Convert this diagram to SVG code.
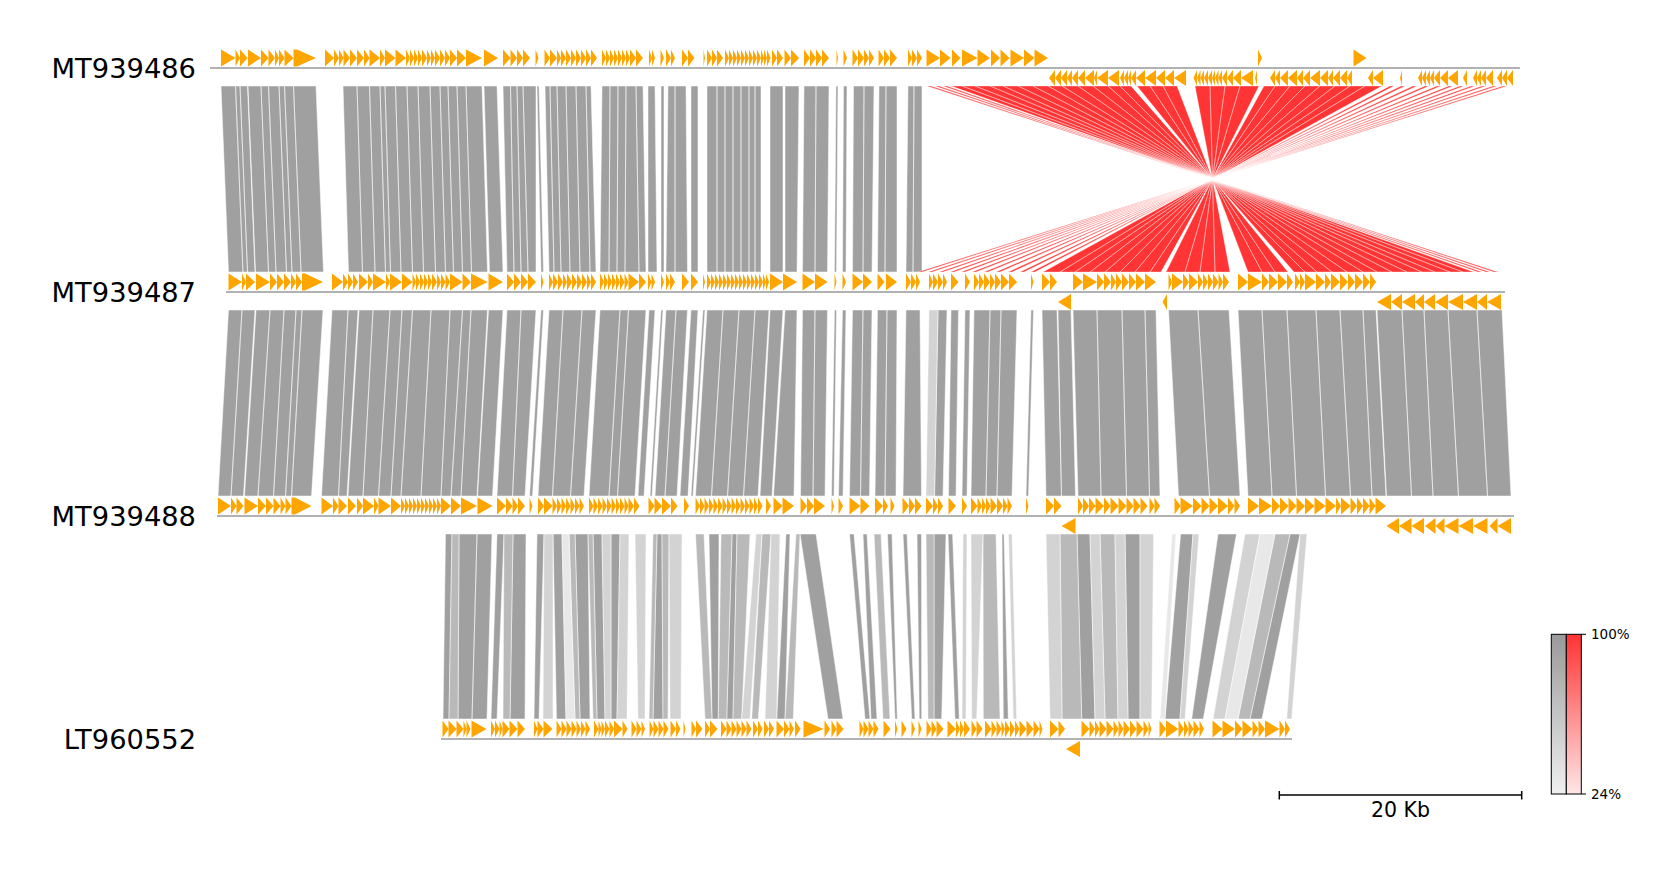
<svg xmlns="http://www.w3.org/2000/svg" width="1680" height="870" viewBox="0 0 1680 870">
<style>
.lbl{font-family:"DejaVu Sans","Liberation Sans",sans-serif;font-size:27.3px;fill:#000;text-anchor:end}
.small{font-family:"DejaVu Sans","Liberation Sans",sans-serif;font-size:13.5px;fill:#000}
.sb{font-family:"DejaVu Sans","Liberation Sans",sans-serif;font-size:20.5px;fill:#000;text-anchor:middle}
.gene{fill:#FFA500}
.trk{stroke:#999;stroke-width:1.6;fill:none}
.lk{stroke:#fff;stroke-width:0.5;stroke-linejoin:round}
.lr{stroke:#fff;stroke-width:0.35;stroke-linejoin:round}
.g1{fill:#a0a0a0}.g2{fill:#b9b9b9}.g3{fill:#d3d3d3}.g4{fill:#e8e8e8}.red{fill:#ff3535}
</style>
<defs>
<linearGradient id="gg" x1="0" y1="0" x2="0" y2="1"><stop offset="0" stop-color="#999"/><stop offset="1" stop-color="#f0f0f0"/></linearGradient>
<linearGradient id="rg" x1="0" y1="0" x2="0" y2="1"><stop offset="0" stop-color="#ff3333"/><stop offset="1" stop-color="#ffe6e6"/></linearGradient>
</defs>
<rect width="1680" height="870" fill="#fff"/>
<g id="connectors">
<path class="lk g1" d="M221 86L235.5 86L243 272L228.5 272ZM235.5 86L240 86L247.5 272L243 272ZM240 86L247.5 86L255 272L247.5 272ZM248 86L261 86L268.5 272L255.5 272ZM261 86L268.5 86L276 272L268.5 272ZM268.5 86L279 86L286.5 272L276 272ZM279 86L284.5 86L292 272L286.5 272ZM284.5 86L293.5 86L301 272L292 272ZM293.5 86L316 86L323.5 272L301 272ZM343 86L357 86L362.5 272L348.5 272ZM357 86L369.5 86L375 272L362.5 272ZM369.5 86L380 86L385.5 272L375 272ZM380 86L385 86L390.5 272L385.5 272ZM385 86L395.5 86L401 272L390.5 272ZM395.5 86L407 86L412.5 272L401 272ZM407 86L418 86L423.5 272L412.5 272ZM418 86L430 86L435.5 272L423.5 272ZM430 86L440 86L445.5 272L435.5 272ZM440 86L448 86L453.5 272L445.5 272ZM448 86L457 86L462.5 272L453.5 272ZM457 86L466 86L471.5 272L462.5 272ZM466 86L482 86L487.5 272L471.5 272ZM484 86L497 86L503 272L489.5 272ZM503 86L510.5 86L514 272L507 272ZM510.5 86L517 86L521 272L514 272ZM517 86L523 86L528 272L521 272ZM523 86L536 86L536 272L528 272ZM537 86L539 86L543.5 272L541 272ZM545 86L550 86L554 272L549 272ZM550 86L557 86L561 272L554 272ZM557 86L566 86L570 272L561 272ZM566 86L576 86L580 272L570 272ZM576 86L586 86L590 272L580 272ZM586 86L591 86L596 272L590 272ZM602 86L610 86L609 272L600 272ZM610 86L618 86L617 272L609 272ZM618 86L626 86L625 272L617 272ZM626 86L636 86L639 272L625 272ZM636 86L643 86L646 272L639 272ZM648 86L655 86L657 272L648 272ZM661 86L664 86L664 272L661 272ZM668 86L675 86L675 272L666 272ZM675 86L686 86L687.5 272L675 272ZM691 86L698 86L698 272L691 272ZM707 86L717 86L717 272L707 272ZM717 86L725 86L725 272L717 272ZM725 86L733 86L733 272L725 272ZM733 86L741 86L741 272L733 272ZM741 86L749 86L749 272L741 272ZM749 86L755 86L755 272L749 272ZM755 86L761 86L761 272L755 272ZM770 86L783 86L783 272L770 272ZM785 86L799 86L797 272L785 272ZM804 86L816 86L815 272L802.5 272ZM816 86L829 86L827.5 272L815 272ZM836 86L838 86L836.5 272L834.5 272ZM843.5 86L847 86L846 272L842.5 272ZM853.5 86L864 86L863 272L852.5 272ZM864 86L874 86L872 272L863 272ZM879 86L886 86L885 272L877.5 272ZM886 86L897 86L897 272L885 272ZM908 86L914 86L913 272L906 272ZM914 86L922 86L922 272L913 272Z"/>
<path class="lr red" d="M927 86L931 86L1494 272L1498 272ZM935 86L939 86L1486 272L1490 272ZM943 86L947 86L1478 272L1482 272ZM951 86L962 86L1463 272L1474 272ZM962 86L975 86L1450 272L1463 272ZM975 86L990 86L1435 272L1450 272ZM990 86L1003 86L1422 272L1435 272ZM1003 86L1018 86L1407 272L1422 272ZM1018 86L1033 86L1392 272L1407 272ZM1033 86L1048 86L1377 272L1392 272ZM1048 86L1062 86L1363 272L1377 272ZM1062 86L1078 86L1347 272L1363 272ZM1078 86L1093 86L1332 272L1347 272ZM1093 86L1108 86L1317 272L1332 272ZM1108 86L1120 86L1305 272L1317 272ZM1120 86L1131 86L1294 272L1305 272ZM1137 86L1150 86L1275 272L1288 272ZM1150 86L1163 86L1262 272L1275 272ZM1163 86L1177 86L1248 272L1262 272ZM1195 86L1210 86L1215 272L1230 272ZM1210 86L1225 86L1200 272L1215 272ZM1225 86L1240 86L1185 272L1200 272ZM1240 86L1259 86L1166 272L1185 272ZM1264 86L1275 86L1150 272L1161 272ZM1275 86L1290 86L1135 272L1150 272ZM1290 86L1305 86L1120 272L1135 272ZM1305 86L1320 86L1105 272L1120 272ZM1320 86L1335 86L1090 272L1105 272ZM1335 86L1350 86L1075 272L1090 272ZM1350 86L1365 86L1060 272L1075 272ZM1365 86L1382 86L1043 272L1060 272ZM1390 86L1394 86L1031 272L1035 272ZM1401 86L1405 86L1020 272L1024 272ZM1413 86L1417 86L1008 272L1012 272ZM1425 86L1429 86L996 272L1000 272ZM1437 86L1441 86L984 272L988 272ZM1449 86L1453 86L972 272L976 272ZM1460 86L1464 86L961 272L965 272ZM1471 86L1475 86L950 272L954 272ZM1482 86L1486 86L939 272L943 272ZM1493 86L1497 86L928 272L932 272ZM1503 86L1507 86L918 272L922 272Z"/>
<path class="lk g1" d="M228.5 310L242 310L231 496L218 496ZM242 310L255 310L243.5 496L231 496ZM256 310L270 310L258 496L244.5 496ZM270 310L284 310L273.5 496L258 496ZM284 310L296 310L285.5 496L273.5 496ZM296 310L302 310L291.5 496L285.5 496ZM302 310L323 310L311.5 496L291.5 496ZM332 310L348 310L338.5 496L321.5 496ZM348 310L358 310L347 496L338.5 496ZM359 310L373 310L363 496L348 496ZM373 310L390 310L378.5 496L363 496ZM390 310L402 310L391 496L378.5 496ZM402 310L412.5 310L401 496L391 496ZM412.5 310L431 310L421 496L401 496ZM431 310L450 310L441 496L421 496ZM450 310L462.5 310L451 496L441 496ZM462.5 310L471 310L461 496L451 496ZM471 310L487.5 310L477 496L461 496ZM488.5 310L503 310L492.5 496L477.5 496ZM507 310L521 310L512.5 496L497 496ZM521 310L536 310L525 496L512.5 496ZM541 310L543.5 310L532.5 496L529.5 496ZM549 310L563 310L552.5 496L538 496ZM563 310L582 310L570.5 496L552.5 496ZM582 310L596 310L584 496L570.5 496ZM600 310L620 310L609 496L589 496ZM620 310L628.5 310L617.5 496L609 496ZM628.5 310L646 310L635 496L617.5 496ZM649 310L655 310L644 496L638 496ZM661 310L663 310L652 496L650 496ZM666 310L676 310L665 496L655 496ZM676 310L687.5 310L677 496L665 496ZM691 310L698 310L688 496L680 496ZM703 310L705 310L693 496L691 496ZM707 310L723 310L711.5 496L695.5 496ZM723 310L739 310L727.5 496L711.5 496ZM739 310L755 310L743.5 496L727.5 496ZM755 310L769 310L758 496L743.5 496ZM770 310L783 310L772 496L760 496ZM785 310L797 310L794 496L773.5 496ZM802.5 310L815 310L813 496L800.5 496ZM815 310L827.5 310L825 496L813 496ZM834.5 310L836.5 310L834 496L831.5 496ZM842.5 310L846 310L843 496L838.5 496ZM852.5 310L863 310L860.5 496L849.5 496ZM863 310L872 310L869.5 496L860.5 496ZM877.5 310L887 310L885 496L875 496ZM887 310L897 310L896 496L885 496ZM906 310L920 310L921.5 496L903 496ZM938 310L947 310L943 496L934.5 496ZM951 310L958.5 310L956 496L948.5 496ZM965 310L970 310L967 496L962 496ZM974 310L990 310L986 496L971 496ZM990 310L1001 310L997 496L986 496ZM1001 310L1017 310L1012 496L997 496ZM1031 310L1033.5 310L1028.5 496L1026 496ZM1042 310L1057 310L1061.5 496L1046 496ZM1058 310L1071 310L1075.5 496L1061.5 496ZM1073 310L1097 310L1101 496L1078 496ZM1097 310L1122 310L1126.5 496L1101 496ZM1122 310L1145 310L1149.5 496L1126.5 496ZM1145 310L1156 310L1160 496L1149.5 496ZM1168.5 310L1198 310L1209.5 496L1178.5 496ZM1198 310L1229 310L1240 496L1209.5 496ZM1238 310L1262 310L1272 496L1248 496ZM1262 310L1287 310L1296.5 496L1272 496ZM1287 310L1316 310L1325.5 496L1296.5 496ZM1316 310L1340 310L1350.5 496L1325.5 496ZM1340 310L1363 310L1372 496L1350.5 496ZM1363 310L1376 310L1386 496L1372 496ZM1377 310L1402 310L1411.5 496L1386.5 496ZM1402 310L1424 310L1433 496L1411.5 496ZM1424 310L1448 310L1458.5 496L1433 496ZM1448 310L1477 310L1487.5 496L1458.5 496ZM1477 310L1502 310L1511 496L1487.5 496Z"/>
<path class="lk g3" d="M929 310L938 310L934.5 496L926 496Z"/>
<path class="lk g1" d="M445.5 534L452 534L449 719L443 719ZM459 534L477 534L472 719L458 719ZM477 534L492 534L487 719L472 719ZM497 534L504 534L497 719L491 719ZM513 534L526 534L525 719L510 719ZM537 534L544 534L539 719L534 719ZM553 534L562 534L566 719L556.5 719ZM575 534L588 534L590 719L580 719ZM593 534L602 534L605 719L597 719ZM611 534L620 534L617 719L611 719ZM657 534L662 534L663 719L653 719ZM709 534L719 534L718.3 719L712 719ZM732 534L737 534L733 719L726.7 719ZM786 534L790 534L785 719L776.7 719ZM800 534L816 534L843 719L828 719ZM849.5 534L854 534L870 719L865 719ZM863 534L867 534L877 719L871 719ZM887.5 534L892 534L897.3 719L895 719ZM903 534L907 534L915 719L911.7 719ZM917 534L921.5 534L921.7 719L919.3 719ZM934 534L946 534L941.7 719L934 719ZM948 534L952.6 534L959.3 719L955 719ZM1002 534L1004 534L1008.3 719L1003.3 719ZM1077 534L1090 534L1095 719L1081.7 719ZM1125 534L1140 534L1140 719L1128 719ZM1180.6 534L1193 534L1180 719L1165 719ZM1218 534L1236.5 534L1203.3 719L1191.7 719ZM1290 534L1300 534L1262 719L1250 719Z"/>
<path class="lk g2" d="M452 534L459 534L458 719L449 719ZM504 534L513 534L510 719L503 719ZM569 534L575 534L580 719L575 719ZM588 534L593 534L597 719L593 719ZM653 534L657 534L653 719L649 719ZM662 534L669 534L668 719L663 719ZM695.5 534L704 534L712 719L705 719ZM721 534L732 534L726.7 719L718.3 719ZM737 534L750 534L741.7 719L733 719ZM762 534L771 534L758.3 719L751.7 719ZM796 534L800 534L793.3 719L785 719ZM874 534L881 534L890 719L883 719ZM926 534L934 534L934 719L928 719ZM983 534L996 534L1000 719L983.3 719ZM1060 534L1077 534L1081.7 719L1062 719ZM1100 534L1115 534L1118 719L1105 719ZM1275 534L1290 534L1250 719L1238 719Z"/>
<path class="lk g3" d="M544 534L553 534L553 719L543 719ZM602 534L611 534L611 719L605 719ZM620 534L629 534L627 719L617 719ZM635 534L646 534L645 719L638 719ZM669 534L682 534L681 719L670 719ZM756 534L762 534L750 719L741.7 719ZM771 534L780 534L776.7 719L765 719ZM963 534L967 534L966 719L962 719ZM971 534L983 534L976.7 719L971.7 719ZM1008.5 534L1012 534L1016.7 719L1013.3 719ZM1046 534L1060 534L1062 719L1050 719ZM1090 534L1100 534L1105 719L1095 719ZM1115 534L1125 534L1128 719L1118 719ZM1140 534L1153.6 534L1151.7 719L1140 719ZM1193 534L1199 534L1185 719L1180 719ZM1245 534L1260 534L1225 719L1213 719ZM1300 534L1307 534L1291.7 719L1286.7 719Z"/>
<path class="lk g4" d="M562 534L569 534L575 719L566 719ZM1172 534L1176 534L1165 719L1160 719ZM1260 534L1275 534L1238 719L1225 719Z"/>
</g>
<g id="track-MT939486">
<text class="lbl" x="196" y="78">MT939486</text>
<line class="trk" x1="210" y1="68" x2="1520" y2="68"/>
<g transform="translate(0,68)">
<path class="gene" d="M221-18.5L235.5-10L221-1.5ZM235.5-18.5L240-10L235.5-1.5ZM240-18.5L247.5-10L240-1.5ZM248-18.5L261-10L248-1.5ZM261-18.5L268.5-10L261-1.5ZM268.5-18.5L275-10L268.5-1.5ZM275-18.5L279-10L275-1.5ZM279-18.5L284.5-10L279-1.5ZM284.5-18.5L293.5-10L284.5-1.5ZM293.5-18.5L297-18.5L316-10L297-1.5L293.5-1.5ZM325-18.5L334-10L325-1.5ZM334-18.5L339-10L334-1.5ZM339-18.5L343.5-10L339-1.5ZM343.5-18.5L350-10L343.5-1.5ZM350-18.5L357-10L350-1.5ZM357-18.5L364-10L357-1.5ZM364-18.5L369.5-10L364-1.5ZM369.5-18.5L380-10L369.5-1.5ZM380-18.5L385-10L380-1.5ZM385-18.5L395.5-10L385-1.5ZM395.5-18.5L406-10L395.5-1.5ZM406-18.5L410-10L406-1.5ZM410-18.5L414-10L410-1.5ZM414-18.5L418-10L414-1.5ZM418-18.5L422-10L418-1.5ZM422-18.5L427-10L422-1.5ZM427-18.5L431-10L427-1.5ZM431-18.5L435-10L431-1.5ZM435-18.5L440-10L435-1.5ZM440-18.5L445-10L440-1.5ZM445-18.5L450-10L445-1.5ZM450-18.5L457-10L450-1.5ZM457-18.5L466-10L457-1.5ZM466-18.5L482-10L466-1.5ZM484-18.5L498-10L484-1.5ZM503-18.5L510.5-10L503-1.5ZM510.5-18.5L517-10L510.5-1.5ZM517-18.5L523-10L517-1.5ZM523-18.5L530-10L523-1.5ZM535.5-18.5L538.5-10L535.5-1.5ZM544.5-18.5L550-10L544.5-1.5ZM550-18.5L557-10L550-1.5ZM557-18.5L561-10L557-1.5ZM561-18.5L566-10L561-1.5ZM566-18.5L571-10L566-1.5ZM571-18.5L576-10L571-1.5ZM576-18.5L581-10L576-1.5ZM581-18.5L586-10L581-1.5ZM586-18.5L591-10L586-1.5ZM591-18.5L597-10L591-1.5ZM602-18.5L606-10L602-1.5ZM606-18.5L610-10L606-1.5ZM610-18.5L614-10L610-1.5ZM614-18.5L618-10L614-1.5ZM618-18.5L622-10L618-1.5ZM622-18.5L626-10L622-1.5ZM626-18.5L630-10L626-1.5ZM630-18.5L636-10L630-1.5ZM636-18.5L643-10L636-1.5ZM649-18.5L652-10L649-1.5ZM652-18.5L655-10L652-1.5ZM660.5-18.5L664-10L660.5-1.5ZM666-18.5L671-10L666-1.5ZM671-18.5L675-10L671-1.5ZM682-18.5L688-10L682-1.5ZM688-18.5L694.5-10L688-1.5ZM703.5-18.5L705-10L703.5-1.5ZM707-18.5L712-10L707-1.5ZM712-18.5L717-10L712-1.5ZM717-18.5L723-10L717-1.5ZM725-18.5L729-10L725-1.5ZM729-18.5L733-10L729-1.5ZM733-18.5L737-10L733-1.5ZM737-18.5L741-10L737-1.5ZM741-18.5L745-10L741-1.5ZM745-18.5L749-10L745-1.5ZM749-18.5L753-10L749-1.5ZM753-18.5L757-10L753-1.5ZM757-18.5L761-10L757-1.5ZM761-18.5L764-10L761-1.5ZM764-18.5L767-10L764-1.5ZM767-18.5L770.5-10L767-1.5ZM772-18.5L777-10L772-1.5ZM777-18.5L783-10L777-1.5ZM784.5-18.5L791-10L784.5-1.5ZM791-18.5L799-10L791-1.5ZM804-18.5L810-10L804-1.5ZM810-18.5L816-10L810-1.5ZM816-18.5L822-10L816-1.5ZM822-18.5L829-10L822-1.5ZM836.5-18.5L838-10L836.5-1.5ZM843.5-18.5L847-10L843.5-1.5ZM852.5-18.5L858-10L852.5-1.5ZM858-18.5L864-10L858-1.5ZM864-18.5L869-10L864-1.5ZM869-18.5L874-10L869-1.5ZM878.5-18.5L884-10L878.5-1.5ZM884-18.5L890-10L884-1.5ZM890-18.5L897-10L890-1.5ZM908-18.5L912-10L908-1.5ZM912-18.5L917-10L912-1.5ZM917-18.5L922-10L917-1.5ZM926.5-18.5L940-10L926.5-1.5ZM940-18.5L950.5-10L940-1.5ZM952-18.5L960.5-10L952-1.5ZM962-18.5L977.5-10L962-1.5ZM977.5-18.5L990-10L977.5-1.5ZM991-18.5L1000-10L991-1.5ZM1000.5-18.5L1009.5-10L1000.5-1.5ZM1010.5-18.5L1024-10L1010.5-1.5ZM1024-18.5L1034.5-10L1024-1.5ZM1034.5-18.5L1048-10L1034.5-1.5ZM1258-18.5L1262-10L1258-1.5ZM1353.5-18.5L1366.5-10L1353.5-1.5Z"/>
<path class="gene" d="M1055 2L1049 10L1055 18ZM1061 2L1055 10L1061 18ZM1067 2L1061 10L1067 18ZM1072 2L1067 10L1072 18ZM1078 2L1072 10L1078 18ZM1085 2L1078 10L1085 18ZM1094 2L1085 10L1094 18ZM1097 2L1094 10L1097 18ZM1108 2L1097 10L1108 18ZM1119 2L1108 10L1119 18ZM1124 2L1120 10L1124 18ZM1128 2L1124 10L1128 18ZM1131 2L1128 10L1131 18ZM1136 2L1131 10L1136 18ZM1145 2L1136 10L1145 18ZM1156 2L1145 10L1156 18ZM1165 2L1156 10L1165 18ZM1174 2L1165 10L1174 18ZM1186 2L1174 10L1186 18ZM1197 2L1193.5 10L1197 18ZM1200.5 2L1197 10L1200.5 18ZM1204 2L1200.5 10L1204 18ZM1208 2L1204 10L1208 18ZM1212 2L1208 10L1212 18ZM1215 2L1212 10L1215 18ZM1218.5 2L1215 10L1218.5 18ZM1222 2L1218.5 10L1222 18ZM1227 2L1222 10L1227 18ZM1233 2L1227 10L1233 18ZM1241 2L1233 10L1241 18ZM1253 2L1241 10L1253 18ZM1257 2L1255 10L1257 18ZM1275 2L1270 10L1275 18ZM1280 2L1275 10L1280 18ZM1288 2L1280 10L1288 18ZM1297 2L1288 10L1297 18ZM1303 2L1297 10L1303 18ZM1310 2L1303 10L1310 18ZM1320 2L1310 10L1320 18ZM1328 2L1320 10L1328 18ZM1333 2L1328 10L1333 18ZM1340 2L1333 10L1340 18ZM1347 2L1340 10L1347 18ZM1352 2L1347 10L1352 18ZM1373 2L1368 10L1373 18ZM1383 2L1373 10L1383 18ZM1402 2L1400 10L1402 18ZM1422 2L1418 10L1422 18ZM1426 2L1422 10L1426 18ZM1430 2L1426 10L1430 18ZM1434 2L1430 10L1434 18ZM1440 2L1434 10L1440 18ZM1448 2L1440 10L1448 18ZM1458 2L1448 10L1458 18ZM1467 2L1463 10L1467 18ZM1477 2L1473 10L1477 18ZM1481 2L1477 10L1481 18ZM1486 2L1481 10L1486 18ZM1493 2L1486 10L1493 18ZM1502 2L1497 10L1502 18ZM1507 2L1502 10L1507 18ZM1513 2L1507 10L1513 18Z"/>
</g>
</g>
<g id="track-MT939487">
<text class="lbl" x="196" y="302">MT939487</text>
<line class="trk" x1="226" y1="292" x2="1505" y2="292"/>
<g transform="translate(0,292)">
<path class="gene" d="M228.5-18.5L242-10L228.5-1.5ZM242-18.5L246-10L242-1.5ZM246-18.5L255-10L246-1.5ZM256-18.5L270-10L256-1.5ZM270-18.5L277-10L270-1.5ZM277-18.5L284-10L277-1.5ZM284-18.5L291-10L284-1.5ZM291-18.5L296-10L291-1.5ZM296-18.5L302-10L296-1.5ZM302-18.5L305-18.5L323-10L305-1.5L302-1.5ZM332-18.5L343-10L332-1.5ZM343-18.5L348-10L343-1.5ZM348-18.5L353-10L348-1.5ZM353-18.5L358-10L353-1.5ZM359-18.5L368-10L359-1.5ZM368-18.5L373-10L368-1.5ZM373-18.5L386-10L373-1.5ZM386-18.5L390-10L386-1.5ZM390-18.5L402-10L390-1.5ZM402-18.5L412.5-10L402-1.5ZM412.5-18.5L416-10L412.5-1.5ZM416-18.5L420-10L416-1.5ZM420-18.5L424-10L420-1.5ZM424-18.5L428-10L424-1.5ZM428-18.5L432-10L428-1.5ZM432-18.5L437-10L432-1.5ZM437-18.5L441-10L437-1.5ZM441-18.5L445.5-10L441-1.5ZM445.5-18.5L450-10L445.5-1.5ZM450-18.5L462.5-10L450-1.5ZM462.5-18.5L471-10L462.5-1.5ZM471-18.5L487.5-10L471-1.5ZM488.5-18.5L503-10L488.5-1.5ZM507-18.5L514-10L507-1.5ZM514-18.5L521-10L514-1.5ZM521-18.5L528-10L521-1.5ZM528-18.5L536-10L528-1.5ZM541-18.5L543.5-10L541-1.5ZM549-18.5L553-10L549-1.5ZM553-18.5L558-10L553-1.5ZM558-18.5L563-10L558-1.5ZM563-18.5L567-10L563-1.5ZM567-18.5L572-10L567-1.5ZM572-18.5L577-10L572-1.5ZM577-18.5L582-10L577-1.5ZM582-18.5L587-10L582-1.5ZM587-18.5L591-10L587-1.5ZM591-18.5L596-10L591-1.5ZM600-18.5L604-10L600-1.5ZM604-18.5L608-10L604-1.5ZM608-18.5L612-10L608-1.5ZM612-18.5L616-10L612-1.5ZM616-18.5L620-10L616-1.5ZM620-18.5L624.5-10L620-1.5ZM624.5-18.5L628.5-10L624.5-1.5ZM628.5-18.5L639-10L628.5-1.5ZM639-18.5L646-10L639-1.5ZM648-18.5L651.5-10L648-1.5ZM651.5-18.5L655-10L651.5-1.5ZM661-18.5L664-10L661-1.5ZM666-18.5L670-10L666-1.5ZM670-18.5L675-10L670-1.5ZM682-18.5L689-10L682-1.5ZM691-18.5L698-10L691-1.5ZM703-18.5L705-10L703-1.5ZM707-18.5L711-10L707-1.5ZM711-18.5L715-10L711-1.5ZM715-18.5L719-10L715-1.5ZM719-18.5L723-10L719-1.5ZM723-18.5L727-10L723-1.5ZM727-18.5L731-10L727-1.5ZM731-18.5L735-10L731-1.5ZM735-18.5L739-10L735-1.5ZM739-18.5L743-10L739-1.5ZM743-18.5L747-10L743-1.5ZM747-18.5L751-10L747-1.5ZM751-18.5L755-10L751-1.5ZM755-18.5L759-10L755-1.5ZM759-18.5L763-10L759-1.5ZM763-18.5L766-10L763-1.5ZM766-18.5L769-10L766-1.5ZM770-18.5L783-10L770-1.5ZM783-18.5L797-10L783-1.5ZM802.5-18.5L815-10L802.5-1.5ZM815-18.5L827.5-10L815-1.5ZM834.5-18.5L836.5-10L834.5-1.5ZM842.5-18.5L846-10L842.5-1.5ZM852.5-18.5L863-10L852.5-1.5ZM863-18.5L872-10L863-1.5ZM877.5-18.5L884.5-10L877.5-1.5ZM886-18.5L897-10L886-1.5ZM906-18.5L911-10L906-1.5ZM911-18.5L916-10L911-1.5ZM916-18.5L920-10L916-1.5ZM929-18.5L933-10L929-1.5ZM933-18.5L938-10L933-1.5ZM938-18.5L943-10L938-1.5ZM943-18.5L947-10L943-1.5ZM951-18.5L958.5-10L951-1.5ZM965-18.5L970-10L965-1.5ZM974-18.5L979-10L974-1.5ZM979-18.5L984-10L979-1.5ZM984-18.5L990-10L984-1.5ZM990-18.5L995-10L990-1.5ZM995-18.5L1001-10L995-1.5ZM1001-18.5L1009-10L1001-1.5ZM1009-18.5L1017-10L1009-1.5ZM1031-18.5L1033.5-10L1031-1.5ZM1042-18.5L1050-10L1042-1.5ZM1050-18.5L1057-10L1050-1.5ZM1073-18.5L1083-10L1073-1.5ZM1083-18.5L1097-10L1083-1.5ZM1097-18.5L1104-10L1097-1.5ZM1104-18.5L1111-10L1104-1.5ZM1111-18.5L1116-10L1111-1.5ZM1116-18.5L1122-10L1116-1.5ZM1122-18.5L1129-10L1122-1.5ZM1129-18.5L1136-10L1129-1.5ZM1136-18.5L1145-10L1136-1.5ZM1145-18.5L1156-10L1145-1.5ZM1168.5-18.5L1172-10L1168.5-1.5ZM1172-18.5L1183-10L1172-1.5ZM1183-18.5L1189-10L1183-1.5ZM1189-18.5L1198-10L1189-1.5ZM1198-18.5L1203-10L1198-1.5ZM1203-18.5L1208-10L1203-1.5ZM1208-18.5L1213-10L1208-1.5ZM1213-18.5L1218.5-10L1213-1.5ZM1218.5-18.5L1223-10L1218.5-1.5ZM1223-18.5L1229-10L1223-1.5ZM1238-18.5L1248-10L1238-1.5ZM1248-18.5L1262-10L1248-1.5ZM1262-18.5L1269-10L1262-1.5ZM1269-18.5L1278-10L1269-1.5ZM1278-18.5L1287-10L1278-1.5ZM1287-18.5L1293-10L1287-1.5ZM1295-18.5L1300-10L1295-1.5ZM1300-18.5L1305-10L1300-1.5ZM1305-18.5L1316-10L1305-1.5ZM1316-18.5L1325-10L1316-1.5ZM1325-18.5L1331-10L1325-1.5ZM1331-18.5L1340-10L1331-1.5ZM1340-18.5L1348-10L1340-1.5ZM1348-18.5L1355-10L1348-1.5ZM1355-18.5L1363-10L1355-1.5ZM1363-18.5L1370-10L1363-1.5ZM1370-18.5L1376-10L1370-1.5Z"/>
<path class="gene" d="M1071 2L1058 10L1071 18ZM1167 2L1162.5 10L1167 18ZM1391 2L1377 10L1391 18ZM1402 2L1391 10L1402 18ZM1415 2L1402 10L1415 18ZM1424 2L1415 10L1424 18ZM1435 2L1424 10L1435 18ZM1448 2L1435 10L1448 18ZM1463 2L1448 10L1463 18ZM1477 2L1463 10L1477 18ZM1487 2L1477 10L1487 18ZM1501 2L1487 10L1501 18Z"/>
</g>
</g>
<g id="track-MT939488">
<text class="lbl" x="196" y="526">MT939488</text>
<line class="trk" x1="217" y1="516" x2="1514" y2="516"/>
<g transform="translate(0,516)">
<path class="gene" d="M218-18.5L231-10L218-1.5ZM231-18.5L236.5-10L231-1.5ZM236.5-18.5L243.5-10L236.5-1.5ZM244.5-18.5L258-10L244.5-1.5ZM258-18.5L266-10L258-1.5ZM266-18.5L273.5-10L266-1.5ZM273.5-18.5L280.5-10L273.5-1.5ZM280.5-18.5L285.5-10L280.5-1.5ZM285.5-18.5L291.5-10L285.5-1.5ZM291.5-18.5L295-18.5L311.5-10L295-1.5L291.5-1.5ZM321.5-18.5L333-10L321.5-1.5ZM333-18.5L338.5-10L333-1.5ZM338.5-18.5L347-10L338.5-1.5ZM348-18.5L356-10L348-1.5ZM357-18.5L363-10L357-1.5ZM363-18.5L374-10L363-1.5ZM374-18.5L378.5-10L374-1.5ZM378.5-18.5L391-10L378.5-1.5ZM391-18.5L401-10L391-1.5ZM401-18.5L405-10L401-1.5ZM405-18.5L409-10L405-1.5ZM409-18.5L413-10L409-1.5ZM413-18.5L417-10L413-1.5ZM417-18.5L421-10L417-1.5ZM421-18.5L425-10L421-1.5ZM425-18.5L429-10L425-1.5ZM429-18.5L433-10L429-1.5ZM433-18.5L437-10L433-1.5ZM437-18.5L441-10L437-1.5ZM441-18.5L451-10L441-1.5ZM451-18.5L461-10L451-1.5ZM461-18.5L477-10L461-1.5ZM477.5-18.5L492.5-10L477.5-1.5ZM497-18.5L506-10L497-1.5ZM506-18.5L512.5-10L506-1.5ZM512.5-18.5L518-10L512.5-1.5ZM518-18.5L525-10L518-1.5ZM529.5-18.5L532.5-10L529.5-1.5ZM538-18.5L544-10L538-1.5ZM544-18.5L552.5-10L544-1.5ZM552.5-18.5L557-10L552.5-1.5ZM557-18.5L561.5-10L557-1.5ZM561.5-18.5L566-10L561.5-1.5ZM566-18.5L570.5-10L566-1.5ZM570.5-18.5L575-10L570.5-1.5ZM575-18.5L579.5-10L575-1.5ZM579.5-18.5L584-10L579.5-1.5ZM589-18.5L593.5-10L589-1.5ZM593.5-18.5L598-10L593.5-1.5ZM598-18.5L602.5-10L598-1.5ZM602.5-18.5L607-10L602.5-1.5ZM607-18.5L611.5-10L607-1.5ZM611.5-18.5L616-10L611.5-1.5ZM616-18.5L620-10L616-1.5ZM620-18.5L624.5-10L620-1.5ZM624.5-18.5L628.5-10L624.5-1.5ZM628.5-18.5L634-10L628.5-1.5ZM634-18.5L639.5-10L634-1.5ZM648.5-18.5L654.5-10L648.5-1.5ZM654.5-18.5L662-10L654.5-1.5ZM662-18.5L671-10L662-1.5ZM671-18.5L677.5-10L671-1.5ZM684-18.5L689-10L684-1.5ZM695.5-18.5L700-10L695.5-1.5ZM700-18.5L704.5-10L700-1.5ZM704.5-18.5L709-10L704.5-1.5ZM709-18.5L713.5-10L709-1.5ZM713.5-18.5L718-10L713.5-1.5ZM718-18.5L722.5-10L718-1.5ZM722.5-18.5L727-10L722.5-1.5ZM727-18.5L731.5-10L727-1.5ZM731.5-18.5L736-10L731.5-1.5ZM736-18.5L740.5-10L736-1.5ZM740.5-18.5L745-10L740.5-1.5ZM745-18.5L749.5-10L745-1.5ZM749.5-18.5L754-10L749.5-1.5ZM754-18.5L758-10L754-1.5ZM758-18.5L762.5-10L758-1.5ZM766-18.5L771-10L766-1.5ZM773.5-18.5L782.5-10L773.5-1.5ZM782.5-18.5L794-10L782.5-1.5ZM800.5-18.5L807-10L800.5-1.5ZM807-18.5L814-10L807-1.5ZM814-18.5L825-10L814-1.5ZM831.5-18.5L834-10L831.5-1.5ZM838.5-18.5L843-10L838.5-1.5ZM849.5-18.5L860.5-10L849.5-1.5ZM860.5-18.5L869.5-10L860.5-1.5ZM875-18.5L883-10L875-1.5ZM883-18.5L888-10L883-1.5ZM890.5-18.5L894.5-10L890.5-1.5ZM902.5-18.5L909-10L902.5-1.5ZM909-18.5L915-10L909-1.5ZM915-18.5L921.5-10L915-1.5ZM926-18.5L933-10L926-1.5ZM933-18.5L938-10L933-1.5ZM938-18.5L943-10L938-1.5ZM948.5-18.5L956-10L948.5-1.5ZM962-18.5L967-10L962-1.5ZM971-18.5L977.5-10L971-1.5ZM977.5-18.5L982-10L977.5-1.5ZM982-18.5L986-10L982-1.5ZM986-18.5L990.5-10L986-1.5ZM990.5-18.5L997-10L990.5-1.5ZM997-18.5L1003-10L997-1.5ZM1003-18.5L1007.5-10L1003-1.5ZM1007.5-18.5L1012-10L1007.5-1.5ZM1026-18.5L1028.5-10L1026-1.5ZM1046-18.5L1054-10L1046-1.5ZM1054-18.5L1061.5-10L1054-1.5ZM1078-18.5L1083-10L1078-1.5ZM1083-18.5L1089-10L1083-1.5ZM1089-18.5L1095.5-10L1089-1.5ZM1095.5-18.5L1104-10L1095.5-1.5ZM1104-18.5L1110.5-10L1104-1.5ZM1110.5-18.5L1118.5-10L1110.5-1.5ZM1118.5-18.5L1126.5-10L1118.5-1.5ZM1126.5-18.5L1133.5-10L1126.5-1.5ZM1133.5-18.5L1140.5-10L1133.5-1.5ZM1140.5-18.5L1147.5-10L1140.5-1.5ZM1149.5-18.5L1154.5-10L1149.5-1.5ZM1154.5-18.5L1160-10L1154.5-1.5ZM1174.5-18.5L1180.5-10L1174.5-1.5ZM1180.5-18.5L1193-10L1180.5-1.5ZM1193-18.5L1201.5-10L1193-1.5ZM1201.5-18.5L1209.5-10L1201.5-1.5ZM1209.5-18.5L1218-10L1209.5-1.5ZM1218-18.5L1228-10L1218-1.5ZM1228-18.5L1234.5-10L1228-1.5ZM1234.5-18.5L1240-10L1234.5-1.5ZM1248-18.5L1259-10L1248-1.5ZM1259-18.5L1272-10L1259-1.5ZM1272-18.5L1280-10L1272-1.5ZM1280-18.5L1288.5-10L1280-1.5ZM1288.5-18.5L1296.5-10L1288.5-1.5ZM1296.5-18.5L1305-10L1296.5-1.5ZM1305-18.5L1314.5-10L1305-1.5ZM1314.5-18.5L1325.5-10L1314.5-1.5ZM1325.5-18.5L1336-10L1325.5-1.5ZM1336-18.5L1341-10L1336-1.5ZM1341-18.5L1350.5-10L1341-1.5ZM1350.5-18.5L1357-10L1350.5-1.5ZM1357-18.5L1363-10L1357-1.5ZM1363-18.5L1369.5-10L1363-1.5ZM1369.5-18.5L1375.5-10L1369.5-1.5ZM1375.5-18.5L1386-10L1375.5-1.5Z"/>
<path class="gene" d="M1075.5 2L1061.5 10L1075.5 18ZM1399 2L1386.5 10L1399 18ZM1411.5 2L1399 10L1411.5 18ZM1424 2L1411.5 10L1424 18ZM1435.5 2L1425 10L1435.5 18ZM1444.5 2L1435.5 10L1444.5 18ZM1458.5 2L1444.5 10L1458.5 18ZM1473 2L1458.5 10L1473 18ZM1487.5 2L1473 10L1487.5 18ZM1497.5 2L1489.5 10L1497.5 18ZM1511 2L1497.5 10L1511 18Z"/>
</g>
</g>
<g id="track-LT960552">
<text class="lbl" x="196" y="749">LT960552</text>
<line class="trk" x1="441" y1="739" x2="1292" y2="739"/>
<g transform="translate(0,739)">
<path class="gene" d="M442.5-18.5L448.5-10L442.5-1.5ZM448.5-18.5L456.5-10L448.5-1.5ZM456.5-18.5L463.5-10L456.5-1.5ZM463.5-18.5L466.5-10L463.5-1.5ZM466.5-18.5L470.5-10L466.5-1.5ZM471.5-18.5L486.5-10L471.5-1.5ZM491-18.5L495-10L491-1.5ZM495-18.5L499.5-10L495-1.5ZM499.5-18.5L502.5-10L499.5-1.5ZM502.5-18.5L509.5-10L502.5-1.5ZM509.5-18.5L517.5-10L509.5-1.5ZM517.5-18.5L525-10L517.5-1.5ZM534-18.5L537.5-10L534-1.5ZM537.5-18.5L543.5-10L537.5-1.5ZM543.5-18.5L552.5-10L543.5-1.5ZM556.5-18.5L561.5-10L556.5-1.5ZM561.5-18.5L566.5-10L561.5-1.5ZM566.5-18.5L571.5-10L566.5-1.5ZM571.5-18.5L576.5-10L571.5-1.5ZM576.5-18.5L581-10L576.5-1.5ZM581-18.5L585.5-10L581-1.5ZM585.5-18.5L590-10L585.5-1.5ZM594-18.5L598.5-10L594-1.5ZM598.5-18.5L601.5-10L598.5-1.5ZM601.5-18.5L605-10L601.5-1.5ZM605-18.5L609.5-10L605-1.5ZM609.5-18.5L614-10L609.5-1.5ZM614-18.5L622.5-10L614-1.5ZM622.5-18.5L627.5-10L622.5-1.5ZM631.5-18.5L636.5-10L631.5-1.5ZM636.5-18.5L641.5-10L636.5-1.5ZM641.5-18.5L645-10L641.5-1.5ZM649.5-18.5L653.5-10L649.5-1.5ZM653.5-18.5L658.5-10L653.5-1.5ZM658.5-18.5L663.5-10L658.5-1.5ZM663.5-18.5L668.5-10L663.5-1.5ZM670.5-18.5L676-10L670.5-1.5ZM676-18.5L680.5-10L676-1.5ZM683.5-18.5L685.5-10L683.5-1.5ZM691.5-18.5L696-10L691.5-1.5ZM696-18.5L702.5-10L696-1.5ZM705-18.5L710-10L705-1.5ZM710-18.5L717.5-10L710-1.5ZM721-18.5L726.5-10L721-1.5ZM726.5-18.5L731.5-10L726.5-1.5ZM731.5-18.5L736.5-10L731.5-1.5ZM736.5-18.5L741.5-10L736.5-1.5ZM741.5-18.5L746.5-10L741.5-1.5ZM746.5-18.5L751.5-10L746.5-1.5ZM753-18.5L758-10L753-1.5ZM758-18.5L762.5-10L758-1.5ZM764-18.5L769-10L764-1.5ZM769-18.5L774-10L769-1.5ZM776.5-18.5L784-10L776.5-1.5ZM784-18.5L789.5-10L784-1.5ZM789.5-18.5L794-10L789.5-1.5ZM795-18.5L800.5-10L795-1.5ZM803.5-18.5L823.5-10L803.5-1.5ZM824.5-18.5L830-10L824.5-1.5ZM831.5-18.5L836.5-10L831.5-1.5ZM836.5-18.5L843.5-10L836.5-1.5ZM859.5-18.5L863.5-10L859.5-1.5ZM863.5-18.5L868.5-10L863.5-1.5ZM868.5-18.5L873.5-10L868.5-1.5ZM873.5-18.5L878.5-10L873.5-1.5ZM883.5-18.5L890.5-10L883.5-1.5ZM895-18.5L897.5-10L895-1.5ZM901.5-18.5L906.5-10L901.5-1.5ZM911.5-18.5L915-10L911.5-1.5ZM918.5-18.5L921.5-10L918.5-1.5ZM926.5-18.5L931.5-10L926.5-1.5ZM931.5-18.5L936.5-10L931.5-1.5ZM936.5-18.5L943.5-10L936.5-1.5ZM947.5-18.5L956-10L947.5-1.5ZM956-18.5L960-10L956-1.5ZM960-18.5L964-10L960-1.5ZM964-18.5L970-10L964-1.5ZM971.5-18.5L976.5-10L971.5-1.5ZM976.5-18.5L982.5-10L976.5-1.5ZM985-18.5L991.5-10L985-1.5ZM991.5-18.5L996.5-10L991.5-1.5ZM996.5-18.5L1001.5-10L996.5-1.5ZM1001.5-18.5L1005-10L1001.5-1.5ZM1005-18.5L1010-10L1005-1.5ZM1010-18.5L1015-10L1010-1.5ZM1015-18.5L1019.5-10L1015-1.5ZM1019.5-18.5L1026.5-10L1019.5-1.5ZM1026.5-18.5L1033.5-10L1026.5-1.5ZM1033.5-18.5L1039.5-10L1033.5-1.5ZM1039.5-18.5L1042.5-10L1039.5-1.5ZM1050-18.5L1058.5-10L1050-1.5ZM1058.5-18.5L1065-10L1058.5-1.5ZM1081.5-18.5L1089.5-10L1081.5-1.5ZM1089.5-18.5L1095-10L1089.5-1.5ZM1095-18.5L1099.5-10L1095-1.5ZM1099.5-18.5L1106.5-10L1099.5-1.5ZM1106.5-18.5L1113.5-10L1106.5-1.5ZM1113.5-18.5L1118.5-10L1113.5-1.5ZM1118.5-18.5L1123.5-10L1118.5-1.5ZM1123.5-18.5L1130-10L1123.5-1.5ZM1130-18.5L1136.5-10L1130-1.5ZM1136.5-18.5L1143.5-10L1136.5-1.5ZM1143.5-18.5L1148.5-10L1143.5-1.5ZM1148.5-18.5L1151.5-10L1148.5-1.5ZM1159.5-18.5L1166-10L1159.5-1.5ZM1166-18.5L1178.5-10L1166-1.5ZM1178.5-18.5L1184-10L1178.5-1.5ZM1184-18.5L1188.5-10L1184-1.5ZM1188.5-18.5L1193.5-10L1188.5-1.5ZM1193.5-18.5L1199.5-10L1193.5-1.5ZM1199.5-18.5L1204-10L1199.5-1.5ZM1212.5-18.5L1222.5-10L1212.5-1.5ZM1222.5-18.5L1235-10L1222.5-1.5ZM1235-18.5L1242.5-10L1235-1.5ZM1242.5-18.5L1252.5-10L1242.5-1.5ZM1252.5-18.5L1258.5-10L1252.5-1.5ZM1258.5-18.5L1265-10L1258.5-1.5ZM1265-18.5L1279.5-10L1265-1.5ZM1279.5-18.5L1285-10L1279.5-1.5ZM1285-18.5L1290-10L1285-1.5Z"/>
<path class="gene" d="M1080 2L1066 10L1080 18Z"/>
</g>
</g>
<g id="scalebar">
<line x1="1279.3" y1="795" x2="1521.7" y2="795" stroke="#000" stroke-width="1.5"/>
<line x1="1279.3" y1="791" x2="1279.3" y2="799.5" stroke="#000" stroke-width="1.5"/>
<line x1="1521.7" y1="791" x2="1521.7" y2="799.5" stroke="#000" stroke-width="1.5"/>
<text class="sb" x="1400.5" y="817">20 Kb</text>
</g>
<g id="colorbar">
<rect x="1551.3" y="634.3" width="15" height="159.7" fill="url(#gg)" stroke="#000" stroke-width="1"/>
<rect x="1566.3" y="634.3" width="15" height="159.7" fill="url(#rg)" stroke="#000" stroke-width="1"/>
<line x1="1581.3" y1="634.3" x2="1586" y2="634.3" stroke="#000" stroke-width="1"/>
<line x1="1581.3" y1="794" x2="1586" y2="794" stroke="#000" stroke-width="1"/>
<text class="small" x="1591" y="639">100%</text>
<text class="small" x="1591" y="799">24%</text>
</g>
</svg>
